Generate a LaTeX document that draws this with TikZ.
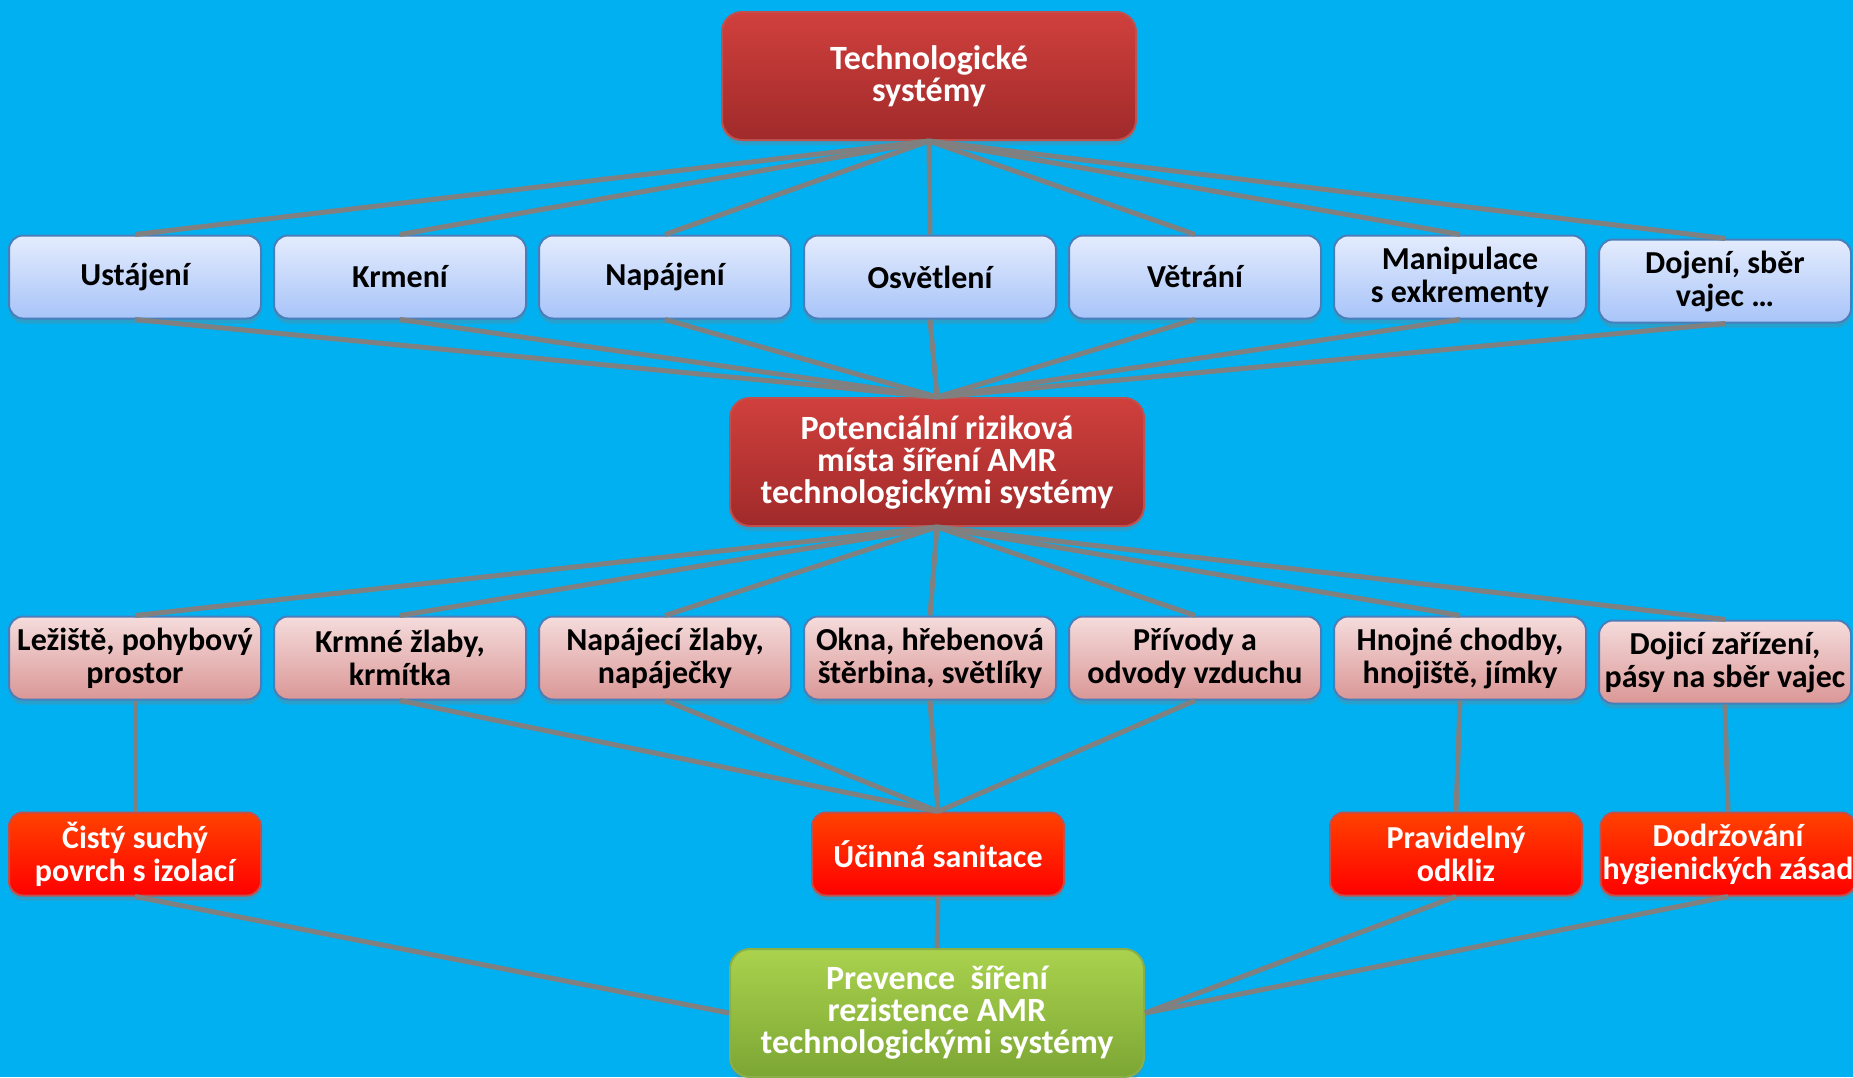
\documentclass[tikz,border=0pt]{standalone}
\usepackage{fontspec}
\setmainfont{Carlito}
\usepackage{xcolor}
\usetikzlibrary{positioning, shadows}
\definecolor{skyback}{HTML}{00B0F0}
\definecolor{linkgray}{HTML}{808080}
\definecolor{redtop}{HTML}{D0403D}
\definecolor{redbot}{HTML}{A02A2A}
\definecolor{rededge}{HTML}{C0504D}
\definecolor{bluetop}{HTML}{E4ECFD}
\definecolor{bluebot}{HTML}{A8C4F9}
\definecolor{blueedge}{HTML}{4A7EBB}
\definecolor{pinktop}{HTML}{F5DCDC}
\definecolor{pinkbot}{HTML}{DA9796}
\definecolor{orangetop}{HTML}{FF4200}
\definecolor{orangebot}{HTML}{FF0000}
\definecolor{greentop}{HTML}{AAD24E}
\definecolor{greenbot}{HTML}{7CA634}
\definecolor{greenedge}{HTML}{8AAE48}
\tikzset{
	box/.style={rectangle, rounded corners=7pt, line width=1pt,
		minimum width=126pt, minimum height=41.5pt, inner xsep=1pt,
		align=center, font=\fontsize{16}{16.5}\selectfont\bfseries,
		drop shadow={opacity=0.3, shadow xshift=0pt, shadow yshift=-2.5pt}},
	system/.style={box, draw=blueedge, top color=bluetop, bottom color=bluebot},
	spot/.style={box, draw=blueedge, top color=pinktop, bottom color=pinkbot},
	measure/.style={box, draw=rededge, top color=orangetop,
		bottom color=orangebot, text=white},
	mainbox/.style={box, rounded corners=10pt, minimum width=207pt,
		minimum height=64pt, font=\fontsize{17}{16}\selectfont\bfseries,
		text=white},
	hazard/.style={mainbox, draw=rededge, top color=redtop, bottom color=redbot},
	goal/.style={mainbox, draw=greenedge, top color=greentop, bottom color=greenbot},
	link/.style={draw=linkgray, line width=2.5pt}
}
\begin{document}
\begin{tikzpicture}[x=0.5pt, y=-0.5pt, node distance=5.5pt]
	\useasboundingbox (0,0) rectangle (1853,1077);
	\fill[skyback] (0,0) rectangle (1853,1077);

	\node[hazard] (tech) at (929,76) {Technologické\\systémy};

	\node[system] (ust) at (135,277) {Ustájení};
	\node[system, right=of ust] (krm) {Krmení};
	\node[system, right=of krm] (nap) {Napájení};
	\node[system, right=of nap] (osv) {Osvětlení};
	\node[system, right=of osv] (vet) {Větrání};
	\node[system, right=of vet] (man) {Manipulace\\s exkrementy};
	\node[system, right=of man, yshift=-2pt] (doj) {Dojení, sběr\\vajec \dots};

	\node[hazard] (risk) at (937,462)
	{Potenciální riziková\\místa šíření AMR\\technologickými systémy};

	\node[spot] (lez) at (135,658) {Ležiště, pohybový\\prostor};
	\node[spot, right=of lez] (zlab) {Krmné žlaby,\\krmítka};
	\node[spot, right=of zlab] (napz) {Napájecí žlaby,\\napáječky};
	\node[spot, right=of napz] (okna) {Okna, hřebenová\\štěrbina, světlíky};
	\node[spot, right=of okna] (vzd) {Přívody a\\odvody vzduchu};
	\node[spot, right=of vzd] (hnoj) {Hnojné chodby,\\hnojiště, jímky};
	\node[spot, right=of hnoj, yshift=-2pt] (dojz) {Dojicí zařízení,\\pásy na sběr vajec};

	\node[measure] (suchy) at (135,854) {Čistý suchý\\povrch s izolací};
	\node[measure] (sanit) at (938,854) {Účinná sanitace};
	\node[measure] (odkliz) at (1456,854) {Pravidelný\\odkliz};
	\node[measure] (hyg) at (1728,854) {Dodržování\\hygienických zásad};

	\node[goal] (prev) at (937,1013)
	{Prevence\ \ šíření\\rezistence AMR\\technologickými systémy};

	\foreach \n in {ust,krm,nap,osv,vet,man,doj}
		\draw[link] (tech.south) -- (\n.north) (\n.south) -- (risk.north);
	\foreach \n in {lez,zlab,napz,okna,vzd,hnoj,dojz}
		\draw[link] (risk.south) -- (\n.north);
	\draw[link] (lez.south) -- (suchy.north);
	\foreach \n in {zlab,napz,okna,vzd}
		\draw[link] (\n.south) -- (sanit.north);
	\draw[link] (hnoj.south) -- (odkliz.north);
	\draw[link] (dojz.south) -- (hyg.north);
	\draw[link] (suchy.south) -- (prev.west);
	\draw[link] (sanit.south) -- (prev.north);
	\draw[link] (odkliz.south) -- (prev.east);
	\draw[link] (hyg.south) -- (prev.east);
\end{tikzpicture}
\end{document}
